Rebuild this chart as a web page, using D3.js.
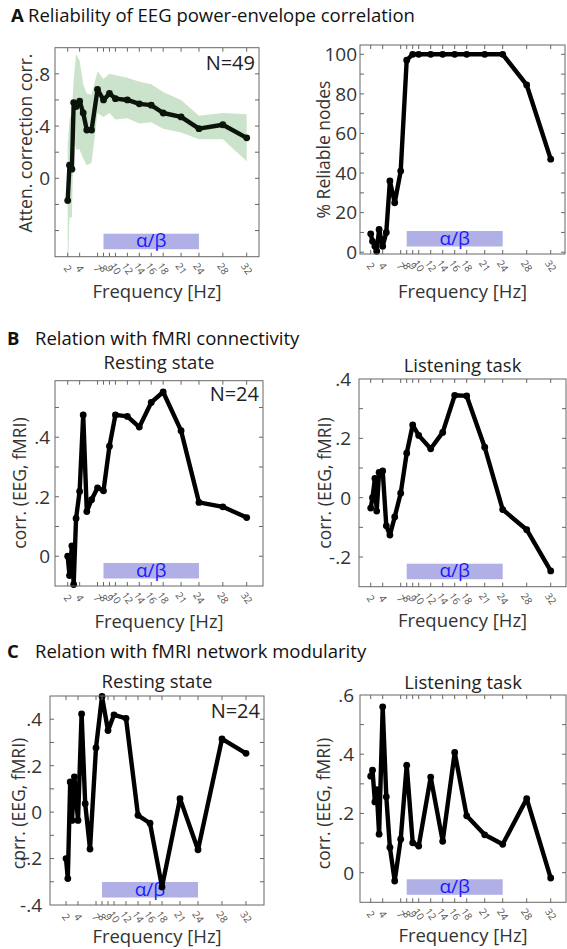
<!DOCTYPE html>
<meta charset="utf-8">
<style>
body { margin: 0; background: #fff; }
svg text { font-family: "Open Sans", "Noto Sans", sans-serif; }
.frame { fill: none; stroke: #666; stroke-width: 1; }
.tick { stroke: #666; stroke-width: 1; }
.ytick { font-size: 19px; fill: #333; text-anchor: end; }
.xtick { font-size: 10px; fill: #555; text-anchor: middle; }
.axtitle { font-size: 17.5px; fill: #333; text-anchor: middle; }
.xtitle { font-size: 18.5px; fill: #333; text-anchor: middle; }
.sub { font-size: 18.5px; fill: #222; text-anchor: middle; }
.nlab { font-size: 20px; fill: #222; text-anchor: end; }
.band { fill: #b0b0e6; }
.bandtxt { font-size: 19px; fill: #1a1aff; text-anchor: middle; }
.line { fill: none; stroke-width: 4.4; stroke-linejoin: round; }
.head { font-size: 18.5px; fill: #111; }
</style>
<svg width="567" height="949"></svg>
<script src="https://cdnjs.cloudflare.com/ajax/libs/d3/7.8.5/d3.min.js"></script>
<script>

// frequencies of the estimates (Hz) and the labelled ticks
var freqs = [2, 2.3, 2.7, 3, 3.4, 4, 4.6, 5.2, 6, 7, 8, 9, 10, 12, 14, 16, 18, 21, 24, 28, 32];
var tickFreqs = [2, 4, 7, 8, 9, 10, 12, 14, 16, 18, 21, 24, 28, 32];
var bandFreqs = [8, 24];

// A: reliability
var atten   = [-0.17, 0.10, 0.07, 0.58, 0.55, 0.59, 0.50, 0.37, 0.37, 0.68, 0.60, 0.65, 0.61, 0.60, 0.57, 0.56, 0.50, 0.47, 0.38, 0.41, 0.31];
var attenHi = [0.25, 0.45, 0.50, 0.75, 0.95, 0.90, 0.72, 0.65, 0.64, 0.82, 0.76, 0.80, 0.79, 0.77, 0.74, 0.72, 0.66, 0.60, 0.48, 0.50, 0.49];
var attenLo = [-0.75, -0.30, -0.30, 0.32, 0.22, 0.22, 0.15, 0.10, 0.12, 0.50, 0.47, 0.50, 0.45, 0.46, 0.42, 0.43, 0.38, 0.35, 0.30, 0.30, 0.13];
var reliable = [9.3, 5.5, 3, 0.5, 11.5, 3, 10, 36, 25, 41, 97, 100, 100, 100, 100, 100, 100, 100, 100, 84.5, 47];

// B: relation with fMRI connectivity
var restConn = [0, -0.065, 0.035, -0.095, 0.127, 0.218, 0.475, 0.15, 0.19, 0.23, 0.22, 0.37, 0.475, 0.47, 0.434, 0.517, 0.552, 0.422, 0.181, 0.166, 0.13];
var taskConn = [-0.035, 0.0, 0.065, -0.045, 0.085, 0.09, -0.095, -0.126, -0.065, 0.015, 0.15, 0.245, 0.21, 0.165, 0.22, 0.345, 0.343, 0.17, -0.04, -0.108, -0.247];

// C: relation with fMRI network modularity
var restMod = [-0.2, -0.286, 0.13, -0.036, 0.152, -0.036, 0.423, 0.036, -0.159, 0.277, 0.498, 0.351, 0.419, 0.404, -0.014, -0.048, -0.322, 0.058, -0.162, 0.315, 0.253];
var taskMod = [0.326, 0.346, 0.239, 0.28, 0.13, 0.56, 0.256, 0.085, -0.028, 0.113, 0.363, 0.101, 0.09, 0.323, 0.106, 0.406, 0.192, 0.128, 0.096, 0.25, -0.018];

var svg = d3.select("svg");

// panel layout: frame box, where 2 and 32 Hz fall, y range
var panels = [
  {vals: atten, lo: attenLo, hi: attenHi, color: "#0a140a",
   left: 55, right: 259, top: 47.7, bottom: 256.7, x2: 67.7, x32: 246.7,
   yDom: [-0.6, 1.0], yStep: 0.2, yLabels: [0, 0.4, 0.8], gap: 5,
   ylab: "Atten. correction corr.", ylabX: 32, ylabY: 143, n: "N=49", nY: 70, xlabY: 298},
  {vals: reliable, color: "#000",
   left: 360, right: 565, top: 45, bottom: 254, x2: 370.7, x32: 550.7,
   yDom: [-0.9, 104.7], yStep: 10, yLabels: [0, 20, 40, 60, 80, 100], gap: 3,
   ylab: "% Reliable nodes", ylabX: 330, ylabY: 149.5, xlabY: 298},
  {vals: restConn, color: "#000",
   left: 55, right: 263, top: 380.7, bottom: 586, x2: 67.7, x32: 246.7,
   yDom: [-0.1, 0.59], yStep: 0.1, yLabels: [0, 0.2, 0.4], gap: 5,
   ylab: "corr. (EEG, fMRI)", ylabX: 26, ylabY: 483, n: "N=24", nY: 400.7,
   sub: "Resting state", subY: 369, xlabY: 628},
  {vals: taskConn, color: "#000",
   left: 359, right: 566, top: 379, bottom: 586.7, x2: 370.7, x32: 550.7,
   yDom: [-0.3, 0.4], yStep: 0.1, yLabels: [-0.2, 0, 0.2, 0.4], gap: 8,
   ylab: "corr. (EEG, fMRI)", ylabX: 331, ylabY: 483,
   sub: "Listening task", subY: 371.7, xlabY: 627},
  {vals: restMod, color: "#000",
   left: 50, right: 264, top: 696, bottom: 905, x2: 66, x32: 246,
   yDom: [-0.4, 0.5], yStep: 0.1, yLabels: [-0.4, -0.2, 0, 0.2, 0.4], gap: 8,
   ylab: "cprr. (EEG, fMRI)", ylabX: 25, ylabY: 803.5, n: "N=24", nY: 718,
   sub: "Resting state", subY: 688, xlabY: 943},
  {vals: taskMod, color: "#000",
   left: 360, right: 566, top: 695, bottom: 902.3, x2: 370.7, x32: 550.7,
   yDom: [-0.1, 0.6], yStep: 0.1, yLabels: [0, 0.2, 0.4, 0.6], gap: 6,
   ylab: "corr. (EEG, fMRI)", ylabX: 330, ylabY: 803.5,
   sub: "Listening task", subY: 689, xlabY: 942}
];

function fmt(v) {
  if (Math.abs(v) < 1e-9) return "0";
  if (Math.abs(v) >= 1) return String(Math.round(v));
  return String(+v.toFixed(2)).replace("0.", ".");
}

panels.forEach(function(p, i) {
  var x = d3.scaleLinear().domain([2, 32]).range([p.x2, p.x32]);
  var y = d3.scaleLinear().domain(p.yDom).range([p.bottom, p.top]);
  var g = svg.append("g");
  var cx = (p.left + p.right) / 2;

  var clipId = "clip" + i;
  svg.append("clipPath").attr("id", clipId).append("rect")
      .attr("x", p.left).attr("y", p.top)
      .attr("width", p.right - p.left).attr("height", p.bottom - p.top);

  // alpha/beta band
  g.append("rect").attr("class", "band")
      .attr("x", x(bandFreqs[0])).attr("width", x(bandFreqs[1]) - x(bandFreqs[0]))
      .attr("y", p.bottom - 23).attr("height", 15.5);
  g.append("text").attr("class", "bandtxt")
      .attr("x", (x(bandFreqs[0]) + x(bandFreqs[1])) / 2)
      .attr("y", p.bottom - 9.5)
      .text("α/β");

  // confidence shading
  if (p.lo) {
    var area = d3.area()
        .x(function(d, j) { return x(freqs[j]); })
        .y0(function(d, j) { return y(p.lo[j]); })
        .y1(function(d, j) { return y(p.hi[j]); });
    g.append("path").datum(p.vals)
        .attr("clip-path", "url(#" + clipId + ")")
        .attr("d", area)
        .attr("fill", "#bddcbd").attr("fill-opacity", 0.8);
  }

  var line = d3.line()
      .x(function(d, j) { return x(freqs[j]); })
      .y(function(d) { return y(d); });
  g.append("path").datum(p.vals).attr("class", "line")
      .attr("stroke", p.color).attr("d", line);
  g.selectAll(".dot").data(p.vals).enter().append("circle")
      .attr("cx", function(d, j) { return x(freqs[j]); })
      .attr("cy", function(d) { return y(d); })
      .attr("r", 3.4).attr("fill", p.color);

  // frame and inward ticks on all sides
  g.append("rect").attr("class", "frame")
      .attr("x", p.left).attr("y", p.top)
      .attr("width", p.right - p.left).attr("height", p.bottom - p.top);

  tickFreqs.forEach(function(f) {
    var xx = x(f);
    g.append("line").attr("class", "tick").attr("x1", xx).attr("x2", xx)
        .attr("y1", p.bottom).attr("y2", p.bottom - 4);
    g.append("line").attr("class", "tick").attr("x1", xx).attr("x2", xx)
        .attr("y1", p.top).attr("y2", p.top + 4);
    g.append("text").attr("class", "xtick")
        .attr("transform", "translate(" + xx + "," + (p.bottom + 12) + ") rotate(55)")
        .attr("dy", "0.35em")
        .text(f);
  });

  var yTicks = d3.range(Math.ceil(p.yDom[0] / p.yStep - 1e-6), Math.floor(p.yDom[1] / p.yStep + 1e-6) + 1)
      .map(function(k) { return k * p.yStep; });
  yTicks.forEach(function(v) {
    var yy = y(v);
    if (yy > p.bottom - 0.5 || yy < p.top + 0.5) return;
    g.append("line").attr("class", "tick").attr("x1", p.left).attr("x2", p.left + 4)
        .attr("y1", yy).attr("y2", yy);
    g.append("line").attr("class", "tick").attr("x1", p.right).attr("x2", p.right - 4)
        .attr("y1", yy).attr("y2", yy);
  });
  p.yLabels.forEach(function(v) {
    g.append("text").attr("class", "ytick")
        .attr("x", p.left - p.gap).attr("y", y(v)).attr("dy", "0.36em")
        .text(fmt(v));
  });

  g.append("text").attr("class", "axtitle")
      .attr("transform", "translate(" + p.ylabX + "," + p.ylabY + ") rotate(-90)")
      .text(p.ylab);
  g.append("text").attr("class", "xtitle")
      .attr("x", cx).attr("y", p.xlabY).text("Frequency [Hz]");
  if (p.sub) g.append("text").attr("class", "sub").attr("x", cx).attr("y", p.subY).text(p.sub);
  if (p.n) g.append("text").attr("class", "nlab").attr("x", p.right - 4).attr("y", p.nY).text(p.n);
});

// section headings
var heads = [
  {letter: "A", text: "Reliability of EEG power-envelope correlation", y: 22, lx: 11, tx: 28},
  {letter: "B", text: "Relation with fMRI connectivity", y: 345, lx: 7, tx: 35},
  {letter: "C", text: "Relation with fMRI network modularity", y: 658, lx: 7, tx: 35}
];
heads.forEach(function(h) {
  svg.append("text").attr("class", "head").attr("x", h.lx).attr("y", h.y)
      .style("font-weight", "bold").text(h.letter);
  svg.append("text").attr("class", "head").attr("x", h.tx).attr("y", h.y).text(h.text);
});

</script>
